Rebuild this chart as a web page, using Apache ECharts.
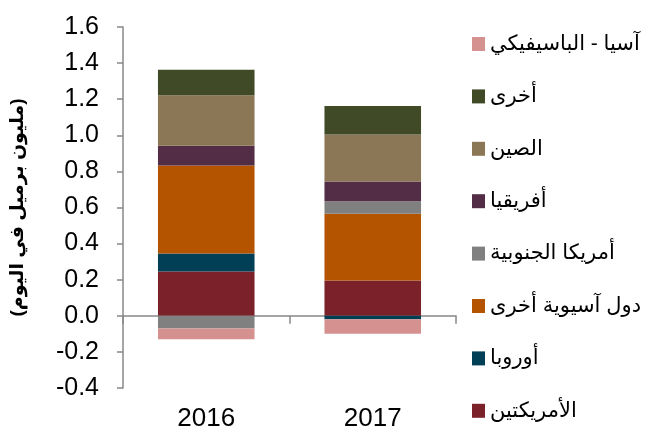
<!DOCTYPE html>
<html>
<head>
<meta charset="utf-8">
<script src="https://cdn.jsdelivr.net/npm/echarts@6/dist/echarts.min.js"></script>
<style>
  html, body { margin: 0; padding: 0; background: #fff; }
</style>
</head>
<body>
<div id="chart" style="width: 649px; height: 432px"></div>
<script>
var years = ['2016', '2017']
var yTicks = [-0.4, 1.6, 0.2]

// stacked from bottom to top
var names = ['الأمريكتين', 'أوروبا', 'دول آسيوية أخرى', 'أمريكا الجنوبية', 'أفريقيا', 'الصين', 'أخرى', 'آسيا - الباسيفيكي']
var colors = ['#7B2129', '#003F56', '#B55400', '#808080', '#522D45', '#8B7655', '#404A27', '#D4918F']

var americas = [0.245, 0.196]
var europe = [0.10, -0.019]
var otherAsia = [0.488, 0.369]
var southAmerica = [-0.07, 0.07]
var africa = [0.109, 0.109]
var china = [0.28, 0.26]
var other = [0.141, 0.159]
var asiaPacific = [-0.06, -0.081]

var values = [americas, europe, otherAsia, southAmerica, africa, china, other, asiaPacific]
var font = '"Liberation Sans", Arial, "DejaVu Sans", sans-serif'
var gridBox = { left: 123, right: 193, top: 27, bottom: 44 }

var myChart = echarts.init(document.getElementById('chart'))
myChart.setOption({
  animation: false,
  grid: [gridBox, gridBox],
  legend: {
    orient: 'vertical',
    left: 467,
    top: 28,
    itemWidth: 13,
    itemHeight: 14,
    itemGap: 30.4,
    icon: 'rect',
    data: names.slice().reverse(),
    textStyle: {
      color: '#000',
      fontFamily: font,
      fontSize: 21,
      lineHeight: 22
    }
  },
  xAxis: [
    {
      // zero line with category ticks
      gridIndex: 0,
      type: 'category',
      data: years,
      axisLine: { onZero: true, lineStyle: { color: '#888', width: 1.5 } },
      axisTick: { show: true, interval: 0, length: 8, lineStyle: { color: '#888', width: 1.5 } },
      axisLabel: { show: false }
    },
    {
      // year labels at the bottom
      gridIndex: 1,
      type: 'category',
      data: years,
      axisLine: { show: false },
      axisTick: { show: false },
      axisLabel: {
        color: '#000',
        fontFamily: font,
        fontSize: 26,
        margin: 21
      }
    }
  ],
  yAxis: [
    {
      gridIndex: 0,
      type: 'value',
      min: yTicks[0],
      max: yTicks[1],
      interval: yTicks[2],
      name: '(مليون برميل في اليوم)',
      nameLocation: 'middle',
      nameRotate: 90,
      nameGap: 96,
      nameTextStyle: {
        color: '#000',
        fontFamily: font,
        fontSize: 19,
        fontWeight: 'bold'
      },
      splitLine: { show: false },
      axisLine: { show: true, lineStyle: { color: '#888', width: 1.5 } },
      axisTick: { show: true, length: 6, lineStyle: { color: '#888', width: 1.5 } },
      axisLabel: {
        color: '#000',
        fontFamily: font,
        fontSize: 25,
        margin: 24,
        formatter: function (v) { return v.toFixed(1) }
      }
    },
    {
      gridIndex: 1,
      type: 'value',
      min: yTicks[0],
      max: yTicks[1],
      show: false
    }
  ],
  series: names.map(function (name, i) {
    return {
      name: name,
      type: 'bar',
      stack: 'total',
      xAxisIndex: 0,
      yAxisIndex: 0,
      barWidth: '58%',
      data: values[i],
      itemStyle: { color: colors[i] }
    }
  })
})
</script>
</body>
</html>
